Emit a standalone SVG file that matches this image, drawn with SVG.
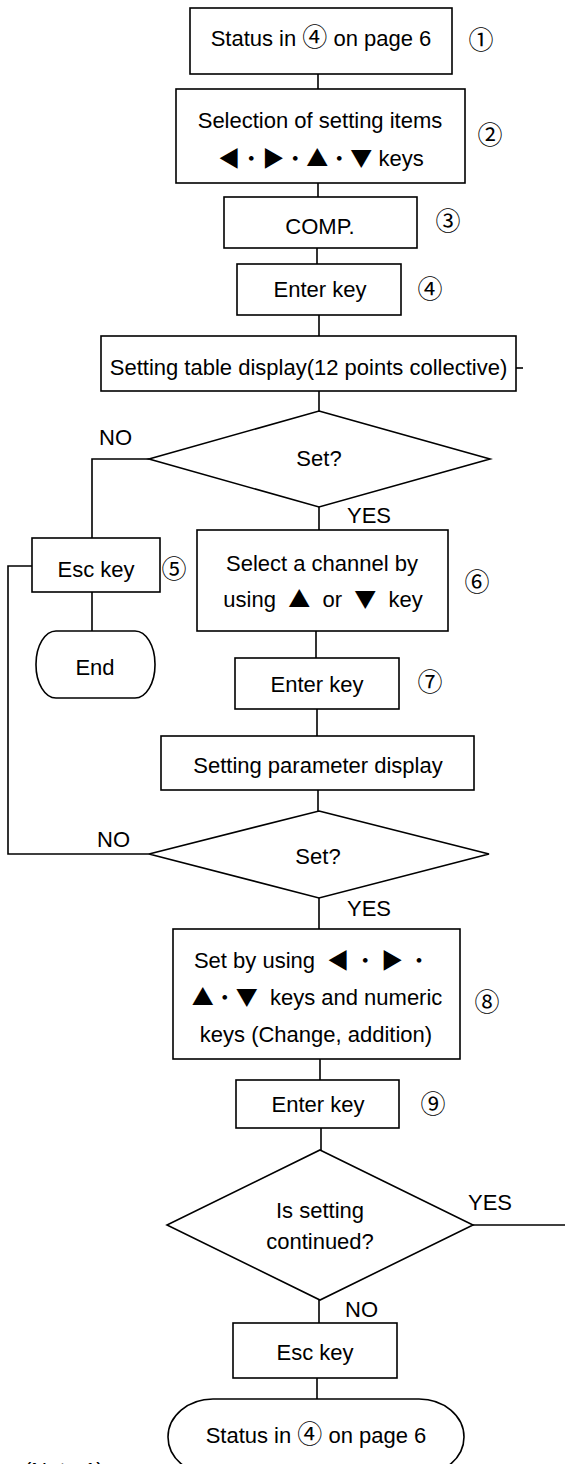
<svg xmlns="http://www.w3.org/2000/svg" width="565" height="1464" viewBox="0 0 565 1464">
<style>
.s{fill:#fff;stroke:#000;stroke-width:1.6}
.c{fill:none;stroke:#000;stroke-width:1.6}
text{font-family:"Liberation Sans","Noto Sans CJK JP",sans-serif;font-size:22px;fill:#000}
.m{text-anchor:middle}
.k{font-family:"Noto Sans CJK JP",sans-serif}
.ci{font-family:"Noto Sans CJK JP",sans-serif;font-size:25px}
.n{font-family:"Noto Sans CJK JP",sans-serif;font-size:25px;text-anchor:middle}
</style>
<rect width="565" height="1464" fill="#fff"/>
<g id="connectors" class="c">
<path d="M318 74V89"/>
<path d="M318 183V197"/>
<path d="M317 248V264"/>
<path d="M319 315V336"/>
<path d="M516 368H523"/>
<path d="M319 391V411"/>
<path d="M149 459H92V538"/>
<path d="M319 507V530"/>
<path d="M92 592V631"/>
<path d="M316 631V658"/>
<path d="M317 709V736"/>
<path d="M318 790V811"/>
<path d="M149 854H8V566H32"/>
<path d="M319 898V929"/>
<path d="M320 1059V1080"/>
<path d="M321 1128V1150"/>
<path d="M473 1225H565"/>
<path d="M319 1300V1323"/>
<path d="M317 1378V1399"/>
</g>
<g id="labels">
<text x="99" y="445">NO</text>
<text x="347" y="523">YES</text>
<text x="97" y="847">NO</text>
<text x="347" y="916">YES</text>
<text x="468" y="1210">YES</text>
<text x="345" y="1317">NO</text>
<text x="24" y="1478">(Note 1)</text>
</g>
<g id="node1">
<rect class="s" x="190" y="8" width="262" height="66"/>
<text class="m" x="321" y="46" xml:space="preserve">Status in <tspan class="ci">④</tspan> on page 6</text>
<text class="n" x="481" y="49">①</text>
</g>
<g id="node2">
<rect class="s" x="176" y="89" width="289" height="94"/>
<text class="m" x="320" y="128">Selection of setting items</text>
<text class="m" x="321" y="166"><tspan class="k">◀・▶・▲・▼</tspan> keys</text>
<text class="n" x="490" y="144">②</text>
</g>
<g id="node3">
<rect class="s" x="224" y="197" width="193" height="51"/>
<text class="m" x="320" y="234">COMP.</text>
<text class="n" x="448" y="230">③</text>
</g>
<g id="node4">
<rect class="s" x="237" y="264" width="164" height="51"/>
<text class="m" x="320" y="297">Enter key</text>
<text class="n" x="430" y="298">④</text>
</g>
<g id="node5">
<rect class="s" x="101" y="336" width="415" height="55"/>
<text class="m" x="308.5" y="375">Setting table display(12 points collective)</text>
</g>
<g id="node6">
<path class="s" d="M319 411L490 459L319 507L149 459Z"/>
<text class="m" x="319" y="466">Set?</text>
</g>
<g id="node7">
<rect class="s" x="32" y="538" width="128" height="54"/>
<text class="m" x="96" y="577">Esc key</text>
<text class="n" x="174" y="578">⑤</text>
</g>
<g id="node8">
<rect class="s" x="36" y="631" width="119" height="67" rx="20" ry="33"/>
<text class="m" x="95" y="675">End</text>
</g>
<g id="node9">
<rect class="s" x="197" y="530" width="251" height="101"/>
<text class="m" x="322" y="571">Select a channel by</text>
<text class="m" x="323" y="607" xml:space="preserve">using  <tspan class="k">▲</tspan>  or  <tspan class="k">▼</tspan>  key</text>
<text class="n" x="477" y="591">⑥</text>
</g>
<g id="node10">
<rect class="s" x="235" y="658" width="164" height="51"/>
<text class="m" x="317" y="692">Enter key</text>
<text class="n" x="430" y="691">⑦</text>
</g>
<g id="node11">
<rect class="s" x="161" y="736" width="313" height="54"/>
<text class="m" x="318" y="773">Setting parameter display</text>
</g>
<g id="node12">
<path class="s" d="M319 811L489 854L319 898L149 854Z"/>
<text class="m" x="318" y="864">Set?</text>
</g>
<g id="node13">
<rect class="s" x="173" y="929" width="287" height="130"/>
<text class="m" x="312" y="968" xml:space="preserve">Set by using  <tspan class="k">◀ ・ ▶ ・</tspan></text>
<text class="m" x="317" y="1005" xml:space="preserve"><tspan class="k">▲・▼</tspan>  keys and numeric</text>
<text class="m" x="316" y="1042">keys (Change, addition)</text>
<text class="n" x="487" y="1011">⑧</text>
</g>
<g id="node14">
<rect class="s" x="236" y="1080" width="163" height="48"/>
<text class="m" x="318" y="1112">Enter key</text>
<text class="n" x="433" y="1113">⑨</text>
</g>
<g id="node15">
<path class="s" d="M320 1150L473 1225L320 1300L167 1225Z"/>
<text class="m" x="320" y="1218">Is setting</text>
<text class="m" x="320" y="1249">continued?</text>
</g>
<g id="node16">
<rect class="s" x="233" y="1323" width="164" height="55"/>
<text class="m" x="315" y="1360">Esc key</text>
</g>
<g id="node17">
<rect class="s" x="168" y="1399" width="296" height="76" rx="45" ry="38"/>
<text class="m" x="316" y="1443" xml:space="preserve">Status in <tspan class="ci">④</tspan> on page 6</text>
</g>
</svg>
